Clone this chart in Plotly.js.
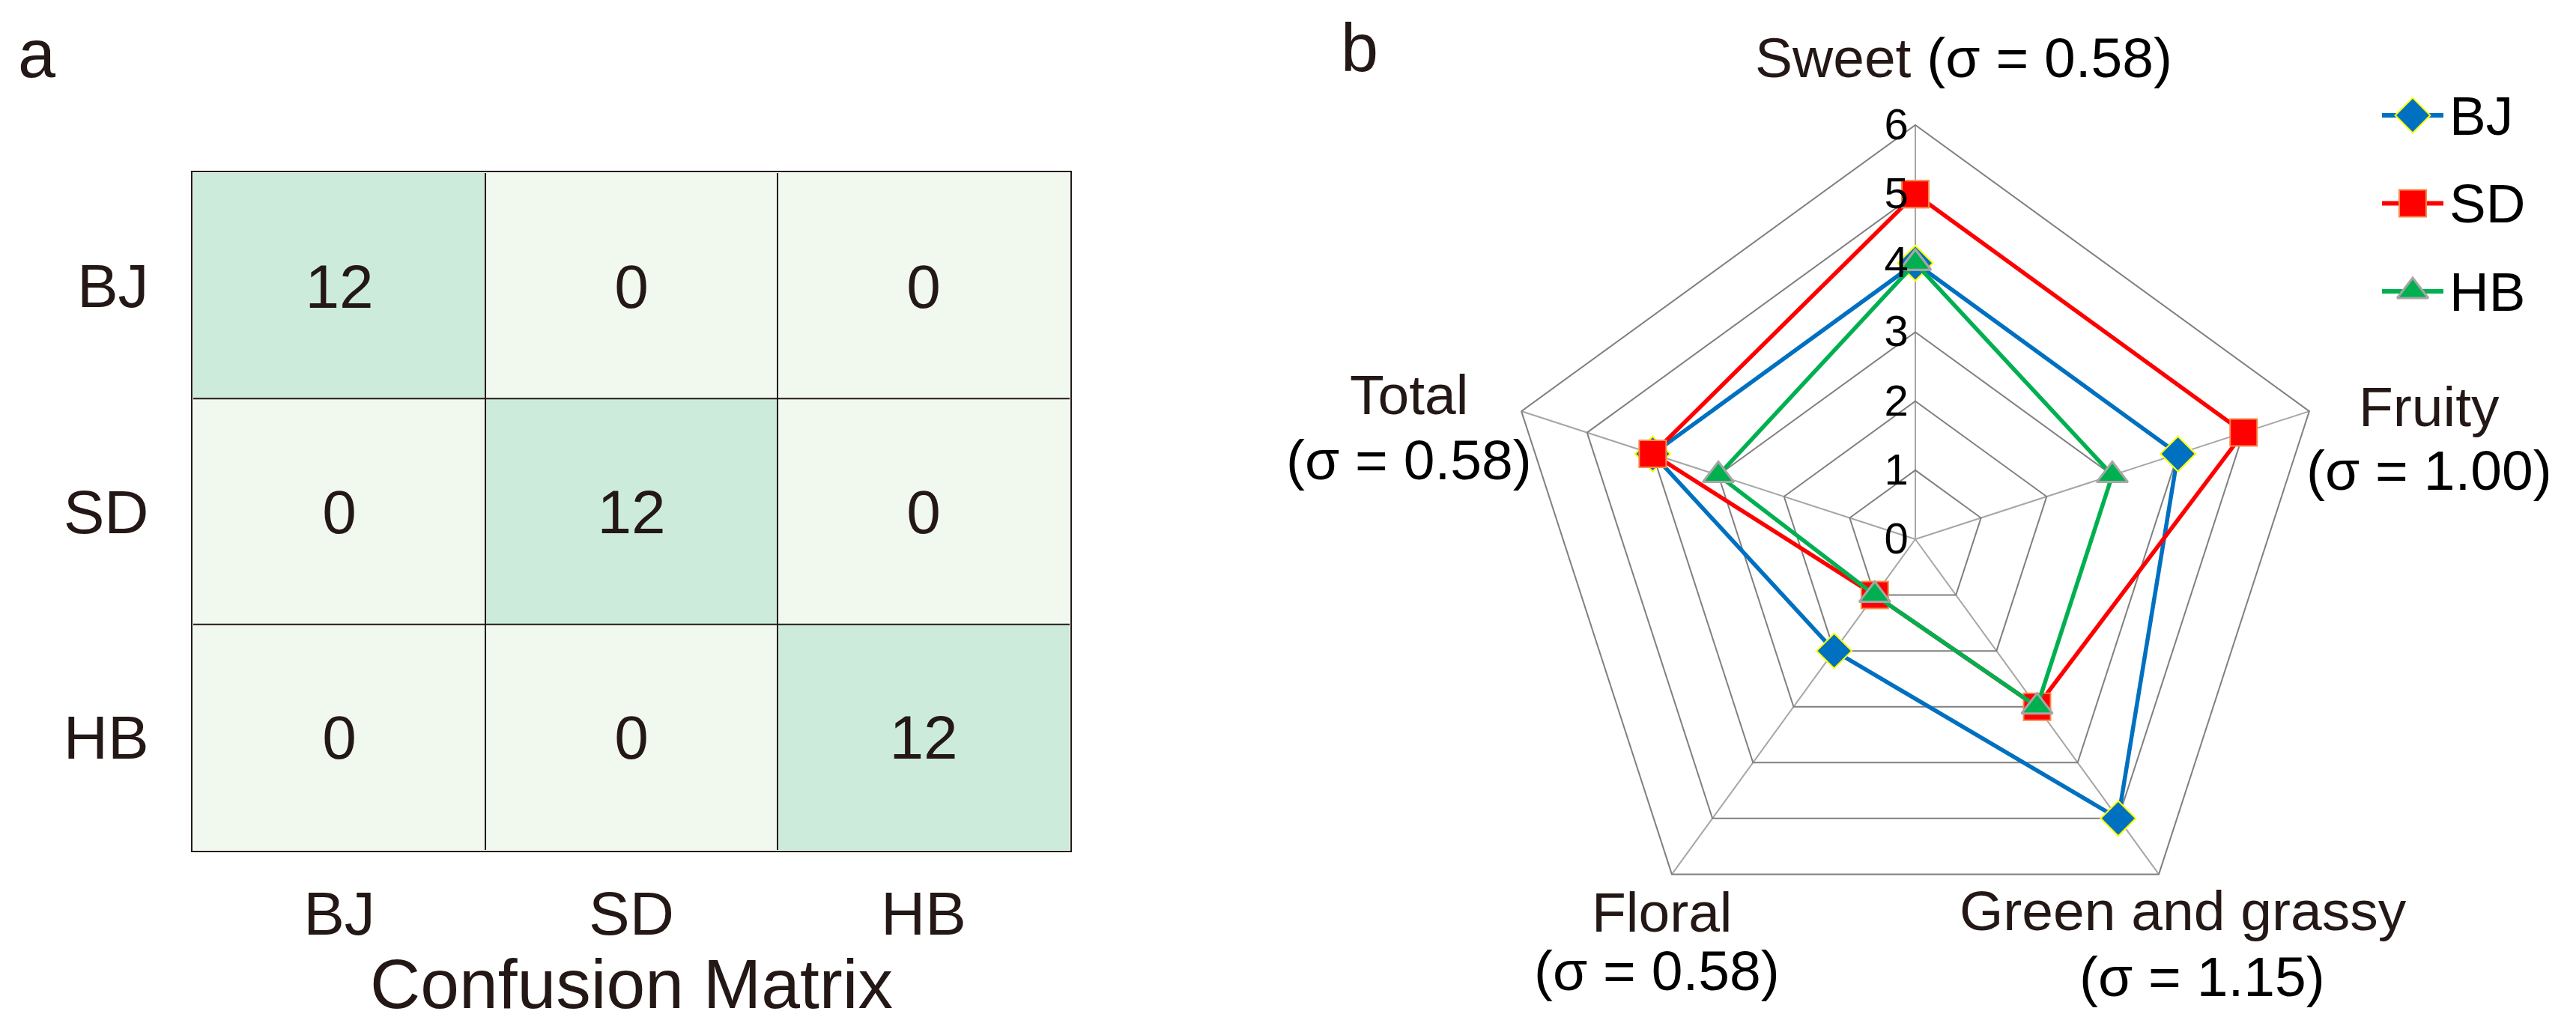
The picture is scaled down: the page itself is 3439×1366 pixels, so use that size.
<!DOCTYPE html>
<html><head><meta charset="utf-8">
<script src="https://cdn.plot.ly/plotly-3.0.1.min.js"></script>
<style>html,body{margin:0;padding:0;background:#fff;}#chart{width:3439px;height:1366px;}</style>
</head><body><div id="chart"></div>
<script>
// ---------- data ----------
const classes = ['BJ', 'SD', 'HB'];
const confusion = [[12, 0, 0], [0, 12, 0], [0, 0, 12]];
const attributes = ['Sweet', 'Fruity', 'Green and grassy', 'Floral', 'Total'];
const sigmaLabels = ['0.58', '1.00', '1.15', '0.58', '0.58'];
const bjScores = [4, 4, 5, 2, 4];
const sdScores = [5, 5, 3, 1, 4];
const hbScores = [4, 3, 3, 1, 3];
const radialTicks = [0, 1, 2, 3, 4, 5, 6];
const seriesNames = ['BJ', 'SD', 'HB'];

// ---------- styling ----------
const W = 3439, H = 1366;
const FONT = 'Liberation Sans, Arial, Helvetica, sans-serif';
const INK = '#231815';
const px = v => v / W;
const py = v => 1 - v / H;

const seriesStyle = [
  {color: '#0070C0', symbol: 'diamond', lineColor: '#FFFF00', lw: 2},
  {color: '#FF0000', symbol: 'square', lineColor: '#F58B4C', lw: 2},
  {color: '#00B050', symbol: 'triangle-up', lineColor: '#A6A6A6', lw: 3}
];
const seriesData = [bjScores, sdScores, hbScores];

const traces = [];

// confusion matrix
traces.push({
  type: 'heatmap', x: classes, y: classes, z: confusion,
  xaxis: 'x', yaxis: 'y',
  zmin: 0, zmax: 12,
  colorscale: [[0, '#F1F9EF'], [1, '#CDEBDA']],
  showscale: false, hoverinfo: 'skip',
  texttemplate: '%{z}',
  textfont: {family: FONT, size: 82, color: INK}
});

// radar series
seriesData.forEach((vals, i) => {
  const s = seriesStyle[i];
  traces.push({
    type: 'scatterpolar', subplot: 'polar',
    name: seriesNames[i],
    theta: attributes.concat([attributes[0]]),
    r: vals.concat([vals[0]]),
    mode: 'lines+markers',
    line: {color: s.color, width: 5.5},
    marker: {symbol: s.symbol, size: 36, color: s.color, line: {color: s.lineColor, width: s.lw}},
    showlegend: false, hoverinfo: 'skip'
  });
});

// custom legend glyphs (line with centred marker)
seriesNames.forEach((nm, i) => {
  const s = seriesStyle[i];
  traces.push({
    type: 'scatter', xaxis: 'x2', yaxis: 'y2',
    x: [0, 0.5, 1], y: [i, i, i],
    mode: 'lines+markers',
    line: {color: s.color, width: 6},
    marker: {symbol: s.symbol, size: 36, color: s.color, opacity: [0, 1, 0],
             line: {color: s.lineColor, width: s.lw}},
    showlegend: false, hoverinfo: 'skip', cliponaxis: false
  });
});

const annotations = [];
// panel letters
annotations.push({text: 'a', xref: 'paper', yref: 'paper', x: px(22), y: py(72), xanchor: 'left', yanchor: 'middle',
  showarrow: false, font: {family: FONT, size: 90, color: INK}});
annotations.push({text: 'b', xref: 'paper', yref: 'paper', x: px(1788), y: py(64), xanchor: 'left', yanchor: 'middle',
  showarrow: false, font: {family: FONT, size: 90, color: INK}});

// radar category labels: name line and sigma line
const labelPos = [
  {x1: 2621, y1: 77, x2: null, y2: null},
  {x1: 3243, y1: 543, x2: 3243, y2: 628},
  {x1: 2914, y1: 1260, x2: 2940, y2: 1260, stack: true},
  {x1: 2219, y1: 1218, x2: 2212, y2: 1296},
  {x1: 1881, y1: 527, x2: 1881, y2: 614}
];
attributes.forEach((a, i) => {
  const p = labelPos[i];
  const sig = '<span style="color:#000">(σ = ' + sigmaLabels[i] + ')</span>';
  const common = {xref: 'paper', yref: 'paper', xanchor: 'center', yanchor: 'middle', showarrow: false,
                  font: {family: FONT, size: 75, color: INK}};
  if (p.x2 === null) {
    annotations.push(Object.assign({}, common, {text: a + ' ' + sig, x: px(p.x1), y: py(p.y1)}));
  } else if (p.stack) {
    annotations.push(Object.assign({}, common, {text: a, x: px(p.x1), y: py(p.y1), yanchor: 'bottom'}));
    annotations.push(Object.assign({}, common, {text: sig, x: px(p.x2), y: py(p.y2), yanchor: 'top'}));
  } else {
    annotations.push(Object.assign({}, common, {text: a, x: px(p.x1), y: py(p.y1)}));
    annotations.push(Object.assign({}, common, {text: sig, x: px(p.x2), y: py(p.y2)}));
  }
});

// legend labels
seriesNames.forEach((nm, i) => {
  annotations.push({text: nm, xref: 'x2', yref: 'y2', x: 1, y: i, xanchor: 'left', yanchor: 'middle',
    xshift: 6, showarrow: false, font: {family: FONT, size: 73, color: '#000'}});
});

// cell borders of the confusion matrix (category boundaries)
const shapes = [];
for (let k = 0; k < classes.length - 1; k++) {
  const b = k + 0.5;
  shapes.push({type: 'line', xref: 'x', yref: 'y', x0: b, x1: b, y0: -0.5, y1: classes.length - 0.5,
    line: {color: INK, width: 2}, layer: 'above'});
  shapes.push({type: 'line', xref: 'x', yref: 'y', y0: b, y1: b, x0: -0.5, x1: classes.length - 0.5,
    line: {color: INK, width: 2}, layer: 'above'});
}

const cx = 2557, cy = 720, R = 553;
const layout = {
  width: W, height: H,
  margin: {l: 0, r: 0, t: 0, b: 0},
  paper_bgcolor: '#fff', plot_bgcolor: '#fff',
  font: {family: FONT, color: INK},
  showlegend: false,
  xaxis: {
    domain: [px(257), px(1429)], anchor: 'y', automargin: false,
    showgrid: false, zeroline: false, ticks: '', ticklabelstandoff: 12,
    showline: true, mirror: true, linecolor: INK, linewidth: 2,
    tickfont: {family: FONT, size: 82, color: INK},
    title: {text: 'Confusion Matrix', font: {family: FONT, size: 93, color: INK}, standoff: 28},
    fixedrange: true
  },
  yaxis: {
    domain: [py(1136), py(230)], anchor: 'x', automargin: false, autorange: 'reversed',
    showgrid: false, zeroline: false, ticks: '', ticklabelstandoff: 40,
    showline: true, mirror: true, linecolor: INK, linewidth: 2,
    tickfont: {family: FONT, size: 82, color: INK},
    fixedrange: true
  },
  xaxis2: {domain: [px(3180), px(3262)], anchor: 'y2', range: [0, 1], visible: false, fixedrange: true},
  yaxis2: {domain: [py(447.75), py(95.25)], anchor: 'x2', range: [2.5, -0.5], visible: false, fixedrange: true},
  polar: {
    domain: {x: [px(cx - R), px(cx + R)], y: [py(cy + R), py(cy - R)]},
    bgcolor: 'rgba(0,0,0,0)',
    gridshape: 'linear',
    angularaxis: {
      type: 'category', categoryarray: attributes, rotation: 90, direction: 'clockwise',
      showticklabels: false, ticks: '', showgrid: true, gridcolor: '#A6A6A6', gridwidth: 2,
      showline: true, linecolor: '#808080', linewidth: 2
    },
    radialaxis: {
      range: [0, 6], tickvals: radialTicks, angle: 90, side: 'counterclockwise', tickangle: 90,
      tickfont: {family: FONT, size: 58, color: '#000'},
      showline: false, ticks: '', showgrid: true, gridcolor: '#808080', gridwidth: 2
    }
  },
  annotations: annotations,
  shapes: shapes
};

Plotly.newPlot('chart', traces, layout, {staticPlot: true, displayModeBar: false});
</script>
</body></html>
